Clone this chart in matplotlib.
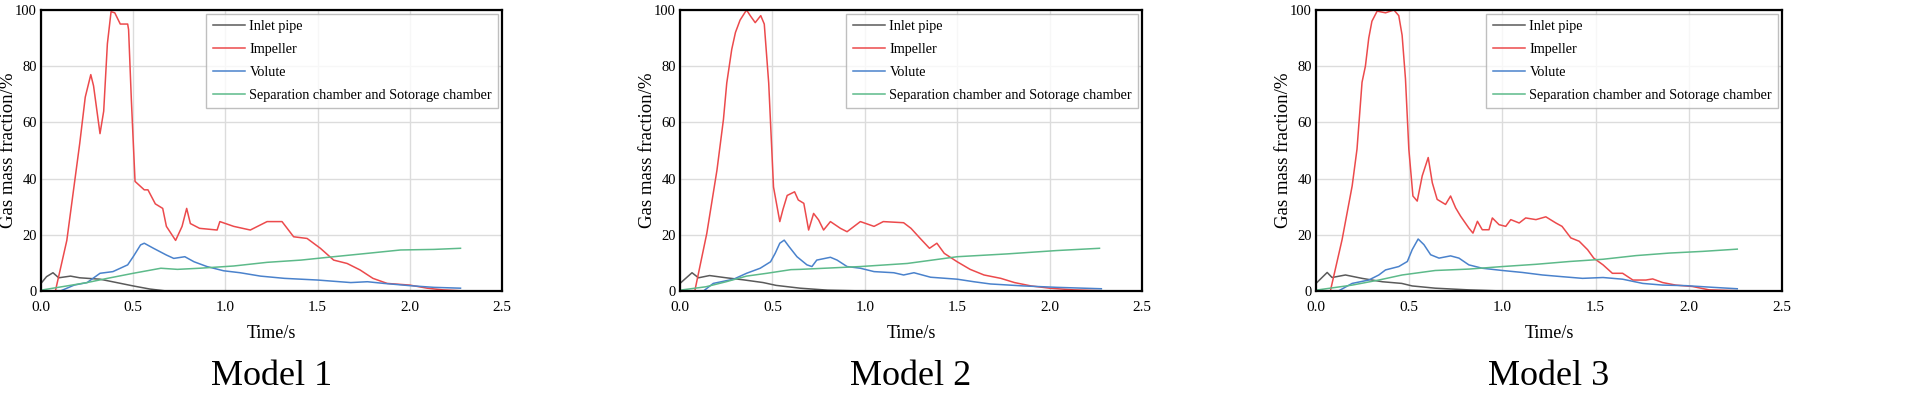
import matplotlib
matplotlib.use("Agg")
import matplotlib.pyplot as plt

plt.rcParams['font.family'] = ['Liberation Serif', 'DejaVu Serif']

series_names = ['Inlet pipe', 'Impeller', 'Volute', 'Separation chamber and Sotorage chamber']
series_colors = ['#5a5a5a', '#ec4a4c', '#4a82cc', '#5dba8a']
model_names = ['Model 1', 'Model 2', 'Model 3']

# ---- Model 1 ----
m1_inlet_t = [0.0, 0.03, 0.065, 0.096, 0.16, 0.21, 0.32, 0.41, 0.50, 0.59, 0.68, 1.0, 1.5, 2.0, 2.27]
m1_inlet_v = [2.7, 5.1, 6.5, 4.7, 5.3, 4.7, 4.2, 3.0, 1.8, 0.7, 0.0, 0.0, 0.0, 0.0, 0.0]
m1_imp_t = [0.0, 0.078, 0.14, 0.21, 0.24, 0.27, 0.285, 0.32, 0.34, 0.36, 0.38, 0.40, 0.43, 0.47,
            0.475, 0.49, 0.51, 0.56, 0.58, 0.62, 0.66, 0.68, 0.73, 0.765, 0.79, 0.81, 0.86, 0.955,
            0.97, 1.045, 1.135, 1.226, 1.307, 1.37, 1.443, 1.515, 1.587, 1.66, 1.73, 1.80, 1.877,
            2.0, 2.094, 2.18, 2.275]
m1_imp_v = [0.0, 0.0, 18, 52.5, 69, 77, 73, 56, 64, 88, 99.4, 99, 95, 95,
            93, 68, 39, 36, 36, 31, 29.4, 23, 18, 23, 29.4, 24, 22.3, 21.7,
            24.7, 23, 21.7, 24.7, 24.7, 19.3, 18.7, 15.2, 11, 9.8, 7.5, 4.5, 2.7,
            2.1, 1.0, 0.4, 0.1]
m1_vol_t = [0.0, 0.105, 0.18, 0.25, 0.32, 0.39, 0.47, 0.50, 0.54, 0.56, 0.61, 0.68, 0.72, 0.78,
            0.83, 0.90, 0.99, 1.08, 1.19, 1.32, 1.50, 1.68, 1.77, 1.86, 2.0, 2.13, 2.275]
m1_vol_v = [0.0, 0.0, 2.1, 3.0, 6.3, 6.9, 9.3, 12.2, 16.4, 17.0, 15.2, 12.8, 11.6, 12.2,
            10.4, 8.7, 7.2, 6.5, 5.3, 4.5, 3.9, 3.0, 3.3, 2.7, 1.9, 1.3, 1.0]
m1_sep_t = [0.0, 0.14, 0.25, 0.36, 0.50, 0.65, 0.74, 0.86, 1.045, 1.226, 1.41, 1.587, 1.77, 1.95, 2.13, 2.275]
m1_sep_v = [0.3, 1.8, 3.0, 4.5, 6.3, 8.1, 7.7, 8.1, 8.9, 10.2, 11.0, 12.2, 13.4, 14.6, 14.8, 15.2]

# ---- Model 2 ----
m2_inlet_t = [0.0, 0.065, 0.10, 0.16, 0.25, 0.34, 0.45, 0.52, 0.65, 0.80, 1.0, 1.5, 2.0, 2.28]
m2_inlet_v = [2.7, 6.5, 4.7, 5.5, 4.7, 4.0, 3.0, 2.0, 1.0, 0.3, 0.0, 0.0, 0.0, 0.0]
m2_imp_t = [0.0, 0.08, 0.145, 0.20, 0.235, 0.253, 0.28, 0.30, 0.325, 0.36, 0.38, 0.407, 0.437,
            0.456, 0.48, 0.506, 0.54, 0.557, 0.58, 0.62, 0.64, 0.67, 0.696, 0.723, 0.75, 0.777,
            0.814, 0.868, 0.904, 0.976, 1.05, 1.10, 1.21, 1.25, 1.30, 1.35, 1.39, 1.43, 1.50,
            1.57, 1.645, 1.736, 1.81, 1.90, 2.0, 2.13, 2.28]
m2_imp_v = [0.0, 0.0, 20.5, 43, 61, 74, 86, 92, 96.4, 100, 98, 95.5, 98,
            95, 74, 37, 24.7, 29, 34, 35.3, 32.4, 31.2, 21.7, 27.6, 25.3, 21.7,
            24.7, 22.3, 21.1, 24.7, 23, 24.7, 24.3, 22.3, 18.7, 15.2, 17, 13.4, 10.4,
            7.7, 5.7, 4.5, 3.0, 1.8, 1.0, 0.4, 0.1]
m2_vol_t = [0.0, 0.127, 0.18, 0.29, 0.36, 0.434, 0.49, 0.515, 0.54, 0.564, 0.59, 0.633, 0.687,
            0.714, 0.74, 0.814, 0.85, 0.904, 0.976, 1.05, 1.157, 1.21, 1.266, 1.356, 1.50, 1.59,
            1.68, 1.86, 2.04, 2.28]
m2_vol_v = [0.0, 0.0, 2.7, 4.2, 6.3, 8.1, 10.4, 13.4, 17, 18.1, 15.8, 12.2, 9.3,
            8.7, 11, 12, 11, 8.7, 8.1, 6.9, 6.5, 5.7, 6.5, 4.9, 4.2, 3.3,
            2.5, 1.8, 1.3, 0.8]
m2_sep_t = [0.0, 0.14, 0.25, 0.36, 0.47, 0.60, 0.65, 0.75, 0.976, 1.23, 1.50, 1.77, 2.04, 2.27]
m2_sep_v = [0.3, 1.5, 3.3, 5.3, 6.3, 7.6, 7.7, 8.0, 8.7, 9.8, 12.2, 13.2, 14.4, 15.2]

# ---- Model 3 ----
m3_inlet_t = [0.0, 0.06, 0.086, 0.158, 0.247, 0.355, 0.46, 0.516, 0.64, 0.82, 1.0, 1.5, 2.0, 2.26]
m3_inlet_v = [2.7, 6.6, 4.8, 5.7, 4.5, 3.3, 2.7, 1.8, 1.0, 0.4, 0.0, 0.0, 0.0, 0.0]
m3_imp_t = [0.0, 0.077, 0.14, 0.194, 0.22, 0.247, 0.265, 0.283, 0.30, 0.328, 0.373, 0.418, 0.444,
            0.462, 0.48, 0.498, 0.52, 0.543, 0.57, 0.602, 0.624, 0.65, 0.695, 0.722, 0.749, 0.776,
            0.82, 0.842, 0.866, 0.892, 0.928, 0.946, 0.982, 1.018, 1.045, 1.09, 1.125, 1.18,
            1.233, 1.287, 1.32, 1.367, 1.412, 1.457, 1.49, 1.54, 1.59, 1.645, 1.70, 1.77, 1.806,
            1.86, 1.93, 2.02, 2.11, 2.26]
m3_imp_v = [0.0, 0.0, 18.3, 37.4, 50.5, 74.3, 80, 90, 96, 99.6, 99, 100, 98,
            91, 75.5, 50.5, 33.8, 32, 41, 47.5, 38.5, 32.6, 30.8, 33.8, 29.6, 26.6,
            22.4, 20.6, 24.8, 21.8, 21.8, 26, 23.6, 23, 25.4, 24.2, 26, 25.4,
            26.4, 24.2, 23, 18.9, 17.7, 14.7, 11.7, 9.3, 6.3, 6.3, 3.9, 3.9, 4.3,
            3.0, 2.1, 1.6, 0.4, 0.1]
m3_vol_t = [0.0, 0.12, 0.194, 0.283, 0.337, 0.373, 0.444, 0.49, 0.516, 0.548, 0.579, 0.615, 0.66,
            0.722, 0.767, 0.82, 0.892, 1.0, 1.107, 1.215, 1.32, 1.43, 1.54, 1.645, 1.753, 1.86,
            1.986, 2.13, 2.26]
m3_vol_v = [0.0, 0.0, 2.7, 3.9, 5.7, 7.5, 8.7, 10.5, 14.7, 18.5, 16.5, 12.9, 11.7,
            12.5, 11.7, 9.3, 8.1, 7.3, 6.6, 5.7, 5.1, 4.5, 4.8, 4.2, 2.7, 2.1,
            1.9, 1.3, 0.8]
m3_sep_t = [0.0, 0.194, 0.337, 0.462, 0.64, 0.82, 1.0, 1.18, 1.36, 1.54, 1.717, 1.896, 2.075, 2.26]
m3_sep_v = [0.3, 2.1, 3.9, 5.7, 7.3, 7.8, 8.7, 9.5, 10.5, 11.3, 12.6, 13.5, 14.1, 14.9]

models = [
    [(m1_inlet_t, m1_inlet_v), (m1_imp_t, m1_imp_v), (m1_vol_t, m1_vol_v), (m1_sep_t, m1_sep_v)],
    [(m2_inlet_t, m2_inlet_v), (m2_imp_t, m2_imp_v), (m2_vol_t, m2_vol_v), (m2_sep_t, m2_sep_v)],
    [(m3_inlet_t, m3_inlet_v), (m3_imp_t, m3_imp_v), (m3_vol_t, m3_vol_v), (m3_sep_t, m3_sep_v)],
]

W, H = 1905, 396
fig = plt.figure(figsize=(W / 100, H / 100), dpi=100)

# axes boxes in pixels: left, right (top 10, bottom 291)
boxes = [(41, 502), (680, 1142), (1316, 1782)]
top_px, bot_px = 10, 291

for i, (l, r) in enumerate(boxes):
    ax = fig.add_axes([l / W, 1 - bot_px / H, (r - l) / W, (bot_px - top_px) / H])
    for (t, v), name, c in zip(models[i], series_names, series_colors):
        ax.plot(t, v, color=c, linewidth=1.1, label=name)
    ax.set_xlim(0, 2.5)
    ax.set_ylim(0, 100)
    ax.set_xticks([0.0, 0.5, 1.0, 1.5, 2.0, 2.5])
    ax.set_xticklabels(['0.0', '0.5', '1.0', '1.5', '2.0', '2.5'])
    ax.set_yticks([0, 20, 40, 60, 80, 100])
    ax.tick_params(axis='x', length=0, pad=7, labelsize=11)
    ax.tick_params(axis='y', length=0, pad=3, labelsize=10.5)
    ax.grid(True, color='#dcdcdc', linewidth=1.0)
    ax.set_axisbelow(True)
    for s in ax.spines.values():
        s.set_linewidth(1.6)
        s.set_color('black')
    ax.set_xlabel('Time/s', fontsize=13, labelpad=8)
    ax.set_ylabel('Gas mass fraction/%', fontsize=13.5)
    ax.yaxis.set_label_coords(-24 / (r - l), 0.5)
    leg = ax.legend(loc='upper right', fontsize=10.2, frameon=True, fancybox=False,
                    handlelength=2.3, handletextpad=0.3, labelspacing=0.7,
                    borderaxespad=0.25, borderpad=0.45)
    leg.get_frame().set_edgecolor('#b0b0b0')
    leg.get_frame().set_linewidth(1.0)
    ax.text(0.5, -0.305, model_names[i], transform=ax.transAxes,
            ha='center', va='center', fontsize=26)

fig.savefig('out.png', dpi=100)
